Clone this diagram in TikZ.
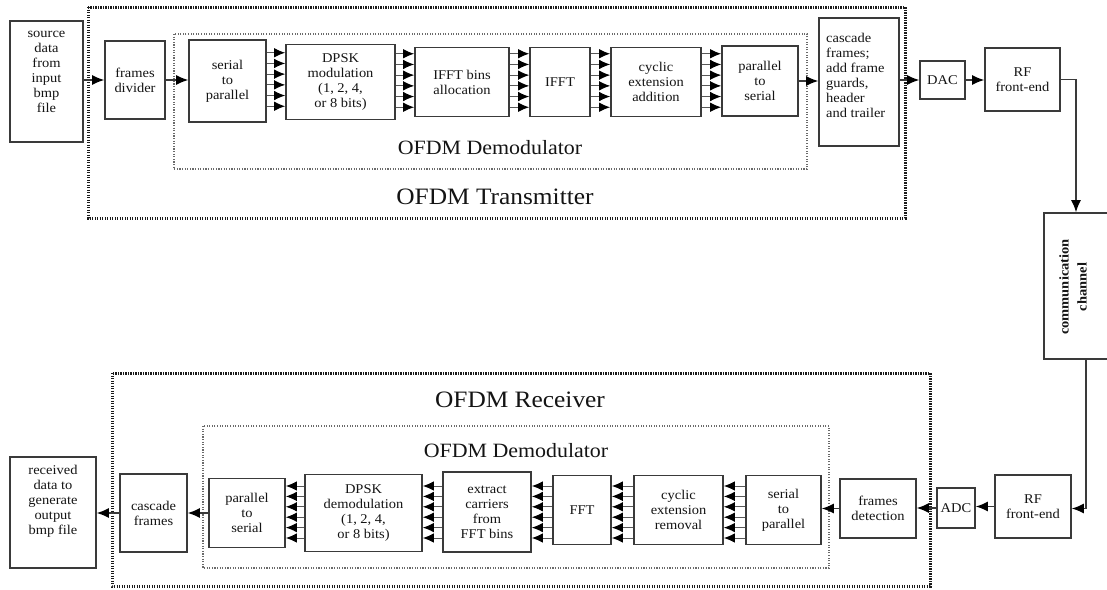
\documentclass[tikz,border=0pt]{standalone}
\usepackage{fontspec}
\setmainfont{Liberation Serif}[FakeStretch=1.08]
\usetikzlibrary{arrows.meta,calc}
\definecolor{linec}{HTML}{3A3A3A}
\definecolor{txtc}{HTML}{141414}
\definecolor{dotc}{HTML}{1A1A1A}
\definecolor{dotin}{HTML}{6A6A6A}
\newcommand\boxfont{\fontsize{13.4}{15}\selectfont}
\newcommand\bigtitle{\fontsize{23.5}{26}\selectfont}
\newcommand\midtitle{\fontsize{20.3}{24}\selectfont}
\begin{document}
\begin{tikzpicture}[x=1pt,y=-1pt,
  box/.style={draw=linec, line width=1.6pt, fill=white, inner sep=0pt, align=center, font=\boxfont, text=txtc},
  txt/.style={inner sep=0pt, align=center, font=\boxfont, text=txtc},
  ttl/.style={inner sep=0pt, font=\bigtitle, text=txtc},
  subttl/.style={inner sep=0pt, font=\midtitle, text=txtc},
  outerbox/.style={draw=dotc, line width=3pt, dash pattern=on 1.3pt off 1.2pt},
  innerbox/.style={draw=dotin, line width=1.4pt, dash pattern=on 1.1pt off 1.5pt},
  arr/.style={draw=linec, line width=1.3pt, -{Latex[length=12pt,width=10pt,color=black]}},
  multi/.style={draw=linec!85, line width=1pt, -{Latex[length=11pt,width=9.5pt,color=black]}}]
\useasboundingbox (0,0) rectangle (1107,589);

% group frames
\draw[outerbox] (88,7) rectangle (905,218);
\draw[innerbox] (174,34) rectangle (807,169);
\draw[outerbox] (112,373) rectangle (930,586);
\draw[innerbox] (203,426) rectangle (829,568);

\node[ttl] (txlab) at (495,197) {OFDM Transmitter};
\node[subttl] (txdem) at (490,148) {OFDM Demodulator};
\node[ttl] (rxlab) at (520,400) {OFDM Receiver};
\node[subttl] (rxdem) at (516,451) {OFDM Demodulator};

% transmitter chain
\node[box, minimum width=73pt, minimum height=121pt] (src) at (46.5,81.5) {};
\node[txt] (srct) at (46.5,72) {source\\data\\from\\input\\bmp\\file};
\node[box, minimum width=60pt, minimum height=78pt] (fdiv) at (135,80) {frames\\divider};
\node[box, minimum width=77pt, minimum height=82pt] (s2p) at (227.5,81) {serial\\to\\parallel};
\node[box, minimum width=109pt, minimum height=75pt] (dpsk) at (340.5,82) {DPSK\\modulation\\(1, 2, 4,\\or 8 bits)};
\node[box, minimum width=94pt, minimum height=69pt] (bins) at (462,82) {IFFT bins\\allocation};
\node[box, minimum width=60pt, minimum height=69pt] (ifft) at (560,82) {IFFT};
\node[box, minimum width=90pt, minimum height=69pt] (cyc) at (656,82) {cyclic\\extension\\addition};
\node[box, minimum width=76pt, minimum height=70pt] (p2s) at (760,81) {parallel\\to\\serial};
\node[box, minimum width=80pt, minimum height=128pt] (casc) at (859,82) {};
\node[txt, anchor=west, align=left] (casct) at (826,75) {cascade\\frames;\\add frame\\guards,\\header\\and trailer};
\node[box, minimum width=45pt, minimum height=38pt] (dac) at (942.5,80) {DAC};
\node[box, minimum width=75pt, minimum height=63pt] (rf1) at (1022.5,79.5) {RF\\front-end};

% channel
\node[box, minimum width=64pt, minimum height=146pt] (comm) at (1076,286) {};
\node[txt, rotate=90, font=\boxfont\bfseries, align=center] (commt) at (1073,287) {communication\\[3pt]channel};

% receiver chain
\node[box, minimum width=76pt, minimum height=63pt] (rf2) at (1033,506.5) {RF\\front-end};
\node[box, minimum width=38pt, minimum height=40pt] (adc) at (956,508) {ADC};
\node[box, minimum width=76pt, minimum height=59pt] (fdet) at (878,508.5) {frames\\detection};
\node[box, minimum width=75pt, minimum height=69pt] (s2pr) at (783.5,510) {serial\\to\\parallel};
\node[box, minimum width=89pt, minimum height=69pt] (cycr) at (678.5,510) {cyclic\\extension\\removal};
\node[box, minimum width=58pt, minimum height=69pt] (fft) at (582,510) {FFT};
\node[box, minimum width=88pt, minimum height=80pt] (ext) at (487,512) {extract\\carriers\\from\\FFT bins};
\node[box, minimum width=117pt, minimum height=77pt] (dpskr) at (363.5,513) {DPSK\\demodulation\\(1, 2, 4,\\or 8 bits)};
\node[box, minimum width=76pt, minimum height=69pt] (p2sr) at (247,513) {parallel\\to\\serial};
\node[box, minimum width=67pt, minimum height=78pt] (cascr) at (153.5,513) {cascade\\frames};
\node[box, minimum width=86pt, minimum height=111pt] (recv) at (53,512.5) {};
\node[txt] (recvt) at (53,501) {received\\data to\\generate\\output\\bmp file};

% transmitter connectors
\draw[arr] (src.east |- fdiv.west) -- (fdiv.west);
\draw[arr] (fdiv.east) -- (fdiv.east -| s2p.west);
\foreach \a/\b in {s2p/dpsk, dpsk/bins, bins/ifft, ifft/cyc, cyc/p2s}{
  \foreach \k in {-2.5,-1.5,-0.5,0.5,1.5,2.5}{
    \draw[multi] ([yshift=\k*10.7pt+1.5pt]\a.east) -- ([yshift=\k*10.7pt+1.5pt]\a.east -| \b.west);
  }
}
\draw[arr] (p2s.east) -- (p2s.east -| casc.west);
\draw[arr] (casc.east |- dac.west) -- (dac.west);
\draw[arr] (dac.east) -- (dac.east -| rf1.west);
\draw[arr] (rf1.east) -| (comm.north);

% receiver connectors
\draw[arr] ([xshift=10pt]comm.south) |- ([yshift=-2pt]rf2.east);
\draw[arr] (rf2.west) -- (rf2.west -| adc.east);
\draw[arr] (adc.west) -- (adc.west -| fdet.east);
\draw[arr] (fdet.west) -- (fdet.west -| s2pr.east);
\foreach \a/\b in {s2pr/cycr, cycr/fft, fft/ext, ext/dpskr, dpskr/p2sr}{
  \foreach \k in {-2.5,-1.5,-0.5,0.5,1.5,2.5}{
    \draw[multi] ([yshift=\k*10.4pt]\a.west |- ext.center) -- ([yshift=\k*10.4pt]\b.east |- ext.center);
  }
}
\draw[arr] (p2sr.west) -- (p2sr.west -| cascr.east);
\draw[arr] (cascr.west) -- (cascr.west -| recv.east);
\end{tikzpicture}
\end{document}
